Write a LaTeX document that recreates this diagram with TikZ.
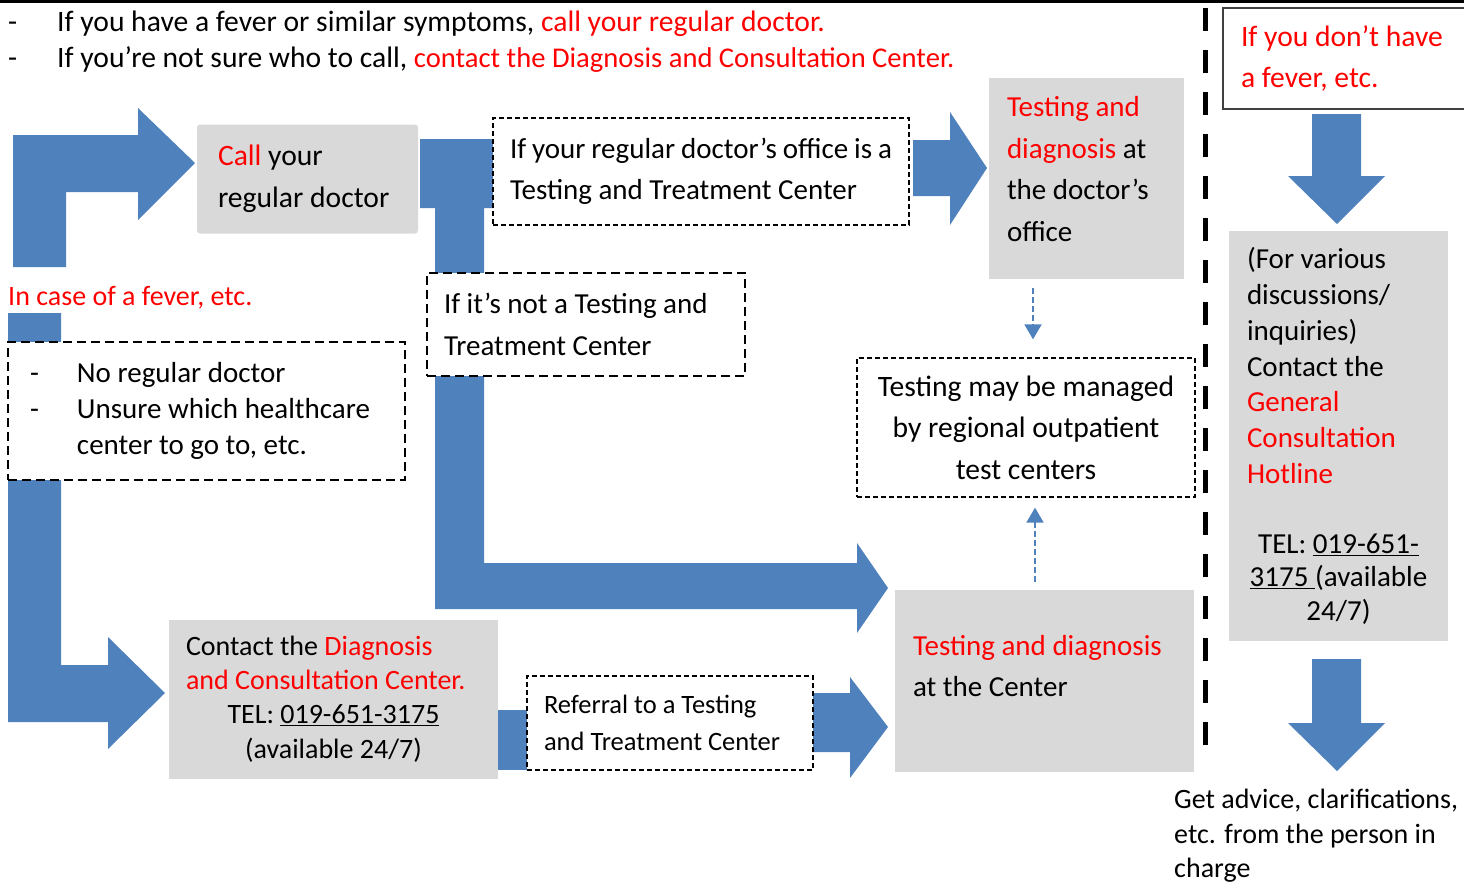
\documentclass[tikz,border=0pt]{standalone}
\usepackage{fontspec}
\setmainfont{Carlito}
\usetikzlibrary{arrows.meta}
\definecolor{flublue}{RGB}{79,129,189}
\definecolor{boxgray}{RGB}{217,217,217}
\definecolor{alertred}{RGB}{255,0,0}
\newcommand{\redtext}[1]{\textcolor{alertred}{#1}}

\begin{document}
\begin{tikzpicture}
[x=1pt,y=-1pt,
  graydecorate/.style={fill=boxgray,inner sep=0pt,align=flush left,font=\fontsize{29}{41.5}\selectfont},
  thindashdecorate/.style={draw,line width=1.3pt,dash pattern=on 5pt off 3pt,fill=white,inner sep=0pt,align=flush left,font=\fontsize{29}{41.5}\selectfont},
  thickdashdecorate/.style={draw,line width=2pt,dash pattern=on 9pt off 5pt,fill=white,inner sep=0pt,align=flush left,font=\fontsize{29}{41.5}\selectfont},
  arrowdecorate/.style={fill=flublue},
  linedecorate/.style={flublue,line width=2pt,dash pattern=on 6pt off 3pt,-{Triangle[width=17pt,length=15pt]}}]
\useasboundingbox (0,0) rectangle (1464,884);
%%% header
\draw[line width=2.5pt] (0,1.25) -- (1464,1.25);
\node (introa) at (8,31) [anchor=base west,inner sep=0pt,font=\fontsize{29.6}{36}\selectfont] {\makebox[49pt][l]{-}If you have a fever or similar symptoms, \redtext{call your regular doctor.}};
\node (introb) at (8,67) [anchor=base west,inner sep=0pt,font=\fontsize{29.6}{36}\selectfont] {\makebox[49pt][l]{-}If you’re not sure who to call, \redtext{\fontsize{28.6}{36}\selectfont contact the Diagnosis and Consultation Center.}};
%
%%% block arrows
\fill[arrowdecorate] (13,267) -- (13,135) -- (138,135) -- (138,108) -- (195,163) -- (138,220) -- (138,192) -- (66,192) -- (66,267) -- cycle;
\fill[arrowdecorate] (420,139) -- (493,139) -- (493,208) -- (484,208) -- (484,563) -- (857,563) -- (857,543) -- (888,588) -- (857,633) -- (857,609) -- (435,609) -- (435,208) -- (420,208) -- cycle;
\fill[arrowdecorate] (913,140) -- (950,140) -- (950,112) -- (987,168) -- (950,225) -- (950,196) -- (913,196) -- cycle;
\fill[arrowdecorate] (8,313) -- (61,313) -- (61,665) -- (108,665) -- (108,637) -- (165,693) -- (108,749) -- (108,722) -- (8,722) -- cycle;
\fill[arrowdecorate] (498,710) rectangle (527,770);
\fill[arrowdecorate] (813,693) -- (850,693) -- (850,677) -- (888,727) -- (850,778) -- (850,752) -- (813,752) -- cycle;
\fill[arrowdecorate] (1312,114) -- (1361,114) -- (1361,176) -- (1385,176) -- (1337,224) -- (1288,176) -- (1312,176) -- cycle;
\fill[arrowdecorate] (1312,659) -- (1361,659) -- (1361,723) -- (1385,723) -- (1337,771) -- (1288,723) -- (1312,723) -- cycle;
%
%%% fever branch
% boxes
\node (call) at (307.5,179) [graydecorate,font=\fontsize{29.6}{41.5}\selectfont,rounded corners=3pt,minimum width=221pt,minimum height=109pt,text width=179pt] {\redtext{Call} your\\regular doctor};
\node (officeif) at (701,171.5) [thindashdecorate,minimum width=416pt,minimum height=107pt,text width=382pt] {If your regular doctor’s office is a\\Testing and Treatment Center};
\node (office) at (1086.5,178.5) [graydecorate,minimum width=195pt,minimum height=201pt,text width=159pt] {\redtext{Testing and}\\\redtext{diagnosis} at\\the doctor’s\\office\rule[-19pt]{0pt}{19pt}};
\node (notttc) at (586,324.5) [thickdashdecorate,minimum width=318pt,minimum height=103pt,text width=284pt] {If it’s not a Testing and\\Treatment Center};
\node (managed) at (1026,427.5) [thindashdecorate,font=\fontsize{29.6}{41.5}\selectfont,align=flush center,minimum width=338pt,minimum height=139pt,text width=320pt] {Testing may be managed\\by regional outpatient\\test centers};
\node (fever) at (8,298) [anchor=west,inner sep=0pt,font=\fontsize{28}{34}\selectfont,text=alertred] {In case of a fever, etc.};
\node (nodoctor) at (206.5,411) [thickdashdecorate,font=\fontsize{29}{36}\selectfont,minimum width=397pt,minimum height=138pt,text width=353pt] {\makebox[47pt][l]{-}No regular doctor\\\makebox[47pt][l]{-}Unsure which healthcare\\\hspace*{47pt}center to go to, etc.};
\node (contact) at (333.5,699.5) [graydecorate,font=\fontsize{28}{34.3}\selectfont,minimum width=329pt,minimum height=159pt,text width=295pt] {Contact the \redtext{Diagnosis}\\\redtext{and Consultation Center.}\\\makebox[295pt]{TEL: \underline{019-651-3175}}\\\makebox[295pt]{(available 24/7)}\rule[-5pt]{0pt}{5pt}};
\node (referral) at (670,723) [thindashdecorate,font=\fontsize{26.5}{37}\selectfont,minimum width=286pt,minimum height=94pt,text width=252pt] {Referral to a Testing\\and Treatment Center};
\node (centertest) at (1044.5,681) [graydecorate,minimum width=299pt,minimum height=182pt,text width=263pt] {\redtext{Testing and diagnosis}\\at the Center\rule[-30pt]{0pt}{30pt}};
% dashed links
\coordinate (mgtop) at ([xshift=7pt]managed.north);
\coordinate (mgbot) at ([xshift=9pt]managed.south);
\draw[linedecorate,shorten <=9pt,shorten >=18pt] (office.south -| mgtop) -- (mgtop);
\draw[linedecorate,shorten <=8pt,shorten >=10pt] (centertest.north -| mgbot) -- (mgbot);
%
%%% divider
\draw[line width=5.5pt,dash pattern=on 23pt off 19pt] (1205.5,8) -- (1205.5,745);
%
%%% no fever branch
\node (nofever) at (1345.5,58.5) [draw=black!75,line width=1.5pt,fill=white,inner sep=0pt,align=flush left,font=\fontsize{29.6}{41.5}\selectfont,minimum width=245pt,minimum height=101pt,text width=209pt] {\redtext{If you don’t have}\\\redtext{a fever, etc.}};
\node (hotline) at (1338.5,436) [graydecorate,font=\fontsize{29}{35.8}\selectfont,minimum width=219pt,minimum height=410pt,text width=183pt] {(For various\\discussions/\\inquiries)\\Contact the\\\redtext{General}\\\redtext{Consultation}\\\redtext{Hotline}\\[34.2pt]\makebox[183pt]{TEL: \underline{019-651-}}\\[-2.3pt]\makebox[183pt]{\underline{3175 }(available}\\[-2.3pt]\makebox[183pt]{24/7)}};
\node (advice) at (1174,836) [anchor=west,inner sep=0pt,align=flush left,font=\fontsize{28}{34.5}\selectfont] {Get advice, clarifications,\\etc. from the person in\\charge};
\end{tikzpicture}
\end{document}
